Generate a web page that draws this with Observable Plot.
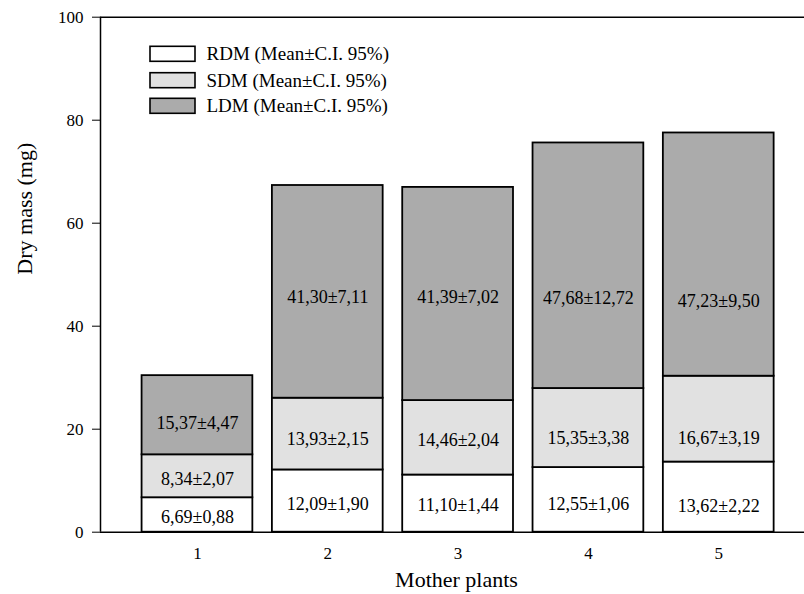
<!DOCTYPE html>
<html>
<head>
<meta charset="utf-8">
<script src="https://cdn.jsdelivr.net/npm/d3@7"></script>
<script src="https://cdn.jsdelivr.net/npm/@observablehq/plot@0.6"></script>
<style>
  html, body { margin: 0; padding: 0; background: #fff; }
  #chart { position: relative; width: 804px; height: 594px; }
</style>
</head>
<body>
<div id="chart"></div>
<script>
// ---- data ----
const plants = [1, 2, 3, 4, 5];
const series = ["RDM", "SDM", "LDM"];
const rdm = [6.69, 12.09, 11.10, 12.55, 13.62];
const sdm = [8.34, 13.93, 14.46, 15.35, 16.67];
const ldm = [15.37, 41.30, 41.39, 47.68, 47.23];
const ciRdm = [0.88, 1.90, 1.44, 1.06, 2.22];
const ciSdm = [2.07, 2.15, 2.04, 3.38, 3.19];
const ciLdm = [4.47, 7.11, 7.02, 12.72, 9.50];
// where each value label sits in the reference (mg)
const labelAtRdm = [2.9, 5.4, 5.2, 5.5, 5.0];
const labelAtSdm = [10.2, 18.1, 17.8, 18.3, 18.3];
const labelAtLdm = [21.2, 45.6, 45.6, 45.4, 44.9];
const yTicks = [0, 20, 40, 60, 80, 100];
const legendLabels = ["RDM (Mean±C.I. 95%)", "SDM (Mean±C.I. 95%)", "LDM (Mean±C.I. 95%)"];
const fills = ["#ffffff", "#e1e1e1", "#ababab"];

// ---- build table ----
const values = [rdm, sdm, ldm];
const cis = [ciRdm, ciSdm, ciLdm];
const labelAt = [labelAtRdm, labelAtSdm, labelAtLdm];
const fmt = v => v.toFixed(2).replace(".", ",");
const rows = [];
plants.forEach((p, i) => {
  let base = 0;
  series.forEach((s, j) => {
    const v = values[j][i];
    rows.push({plant: p, series: s, y1: base, y2: base + v, value: v,
               label: fmt(v) + "±" + fmt(cis[j][i]), labelY: labelAt[j][i]});
    base += v;
  });
});

const halfBar = 0.425;
const xDomain = [0.256, 5.658];
const serif = "'Liberation Serif', 'Times New Roman', serif";

const chart = Plot.plot({
  width: 804,
  height: 594,
  marginLeft: 100,
  marginRight: 0,
  marginTop: 16.7,
  marginBottom: 62.3,
  style: {fontFamily: serif, fontSize: "17px", color: "#000", background: "#fff"},
  x: {domain: xDomain},
  y: {domain: [0, 100]},
  color: {domain: series, range: fills},
  marks: [
    Plot.rectY(rows, {
      x1: d => d.plant - halfBar, x2: d => d.plant + halfBar,
      y1: "y1", y2: "y2", fill: "series", stroke: "#000", strokeWidth: 1.8
    }),
    Plot.text(rows, {x: "plant", y: "labelY", text: "label", fontSize: 18, fill: "#000"}),
    Plot.ruleY([0, 100], {stroke: "#000", strokeWidth: 1.5}),
    Plot.ruleX([xDomain[0]], {stroke: "#000", strokeWidth: 1.5}),
    Plot.axisY({ticks: yTicks, tickSize: 8, tickPadding: 9, label: null, fontSize: 17}),
    Plot.axisX({ticks: plants, tickSize: 0, tickPadding: 15, tickFormat: d => String(d), label: null, fontSize: 17}),
    Plot.text(["Dry mass (mg)"], {frameAnchor: "left", rotate: -90, dx: -76, fontSize: 22, fill: "#000"}),
    Plot.text(["Mother plants"], {frameAnchor: "bottom", dx: 4, dy: 55, fontSize: 22, fill: "#000"})
  ]
});

document.getElementById("chart").appendChild(chart);

// ---- legend inside the plot area ----
const svg = d3.select(chart);
const lg = svg.append("g")
  .attr("font-family", serif)
  .attr("font-size", 19)
  .attr("text-anchor", "start");
const rowTops = [46.3, 72.7, 98.3];
series.forEach((s, j) => {
  lg.append("rect").attr("x", 150).attr("y", rowTops[j]).attr("width", 45).attr("height", 15)
    .attr("fill", fills[j]).attr("stroke", "#000").attr("stroke-width", 1.6);
  lg.append("text").attr("x", 206.5).attr("y", rowTops[j] + 7.5).attr("dy", "0.35em")
    .attr("text-anchor", "start").attr("fill", "#000").text(legendLabels[j]);
});
</script>
</body>
</html>
